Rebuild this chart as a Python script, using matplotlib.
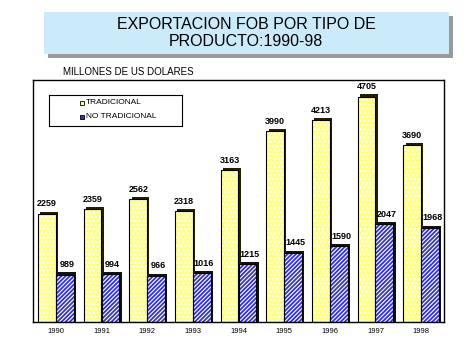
import matplotlib
matplotlib.use("Agg")
import matplotlib.pyplot as plt
import numpy as np
from matplotlib.patches import Rectangle

plt.rcParams['font.family'] = ['Liberation Sans', 'DejaVu Sans']
plt.rcParams['hatch.linewidth'] = 1.3

years = ["1990", "1991", "1992", "1993", "1994", "1995", "1996", "1997", "1998"]
tradicional = [2259, 2359, 2562, 2318, 3163, 3990, 4213, 4705, 3690]
no_tradicional = [989, 994, 966, 1016, 1215, 1445, 1590, 2047, 1968]

fig = plt.figure(figsize=(4.76, 3.56), dpi=100)

# title box with shadow
fig.patches.append(Rectangle((48/476, 1-58/356), 405/476, 42/356, transform=fig.transFigure,
                             facecolor="#999999", edgecolor="none", zorder=0))
fig.patches.append(Rectangle((44/476, 1-54/356), 405/476, 42/356, transform=fig.transFigure,
                             facecolor="#CCEBFA", edgecolor="none", zorder=1))
fig.text(246/476, 1-33/356, "EXPORTACION FOB POR TIPO DE\nPRODUCTO:1990-98", ha="center", va="center",
         fontsize=11.5, linespacing=1.15, zorder=2)
fig.text(63/476, 1-72/356, "MILLONES DE US DOLARES", fontsize=7, va="center")

ax = fig.add_axes([33/476, 34/356, 411/476, 242/356])
x = np.arange(len(years))
w = 0.39
xt = x - w/2
xn = x + w/2

# shadows
ax.bar(xt + 0.05, np.array(tradicional) + 45, w, color="#202000", zorder=1)
ax.bar(xn + 0.05, np.array(no_tradicional) + 45, w, color="#111111", zorder=1)
# fills
ax.bar(xt, tradicional, w, color="#FFFF80", hatch="....", edgecolor="white", linewidth=0, zorder=2)
ax.bar(xn, no_tradicional, w, color="white", hatch="////////", edgecolor="#3333CC", linewidth=0, zorder=2)
# outlines
ax.bar(xt, tradicional, w, fill=False, edgecolor="black", linewidth=0.8, zorder=3)
ax.bar(xn, no_tradicional, w, fill=False, edgecolor="black", linewidth=0.8, zorder=3)

for i in range(len(years)):
    ax.text(xt[i], tradicional[i] + 110, str(tradicional[i]), ha="center", va="bottom",
            fontsize=6.5, fontweight="bold")
    ax.text(xn[i] + 0.05, no_tradicional[i] + 110, str(no_tradicional[i]), ha="center", va="bottom",
            fontsize=6.5, fontweight="bold")

ax.set_xlim(-0.5, len(years) - 0.5)
ax.set_ylim(0, 5050)
ax.set_yticks([])
ax.set_xticks(x)
ax.set_xticklabels(years, fontsize=5.5)
ax.tick_params(axis="x", length=0, pad=4)
for s in ax.spines.values():
    s.set_linewidth(1.0)

# legend box
leg_ax = fig.add_axes([49/476, 1-126/356, 133/476, 31/356])
leg_ax.set_xticks([])
leg_ax.set_yticks([])
leg_ax.set_xlim(0, 133)
leg_ax.set_ylim(31, 0)
for s in leg_ax.spines.values():
    s.set_linewidth(0.8)
leg_ax.add_patch(Rectangle((31, 6), 4, 4, facecolor="#FFFF80", edgecolor="black", linewidth=0.6))
leg_ax.add_patch(Rectangle((31, 20), 4, 4, facecolor="#3333CC", edgecolor="black", linewidth=0.6))
leg_ax.text(37, 8, "TRADICIONAL", fontsize=6, va="center")
leg_ax.text(37, 22, "NO TRADICIONAL", fontsize=6, va="center")

fig.savefig("out.png", dpi=100)
